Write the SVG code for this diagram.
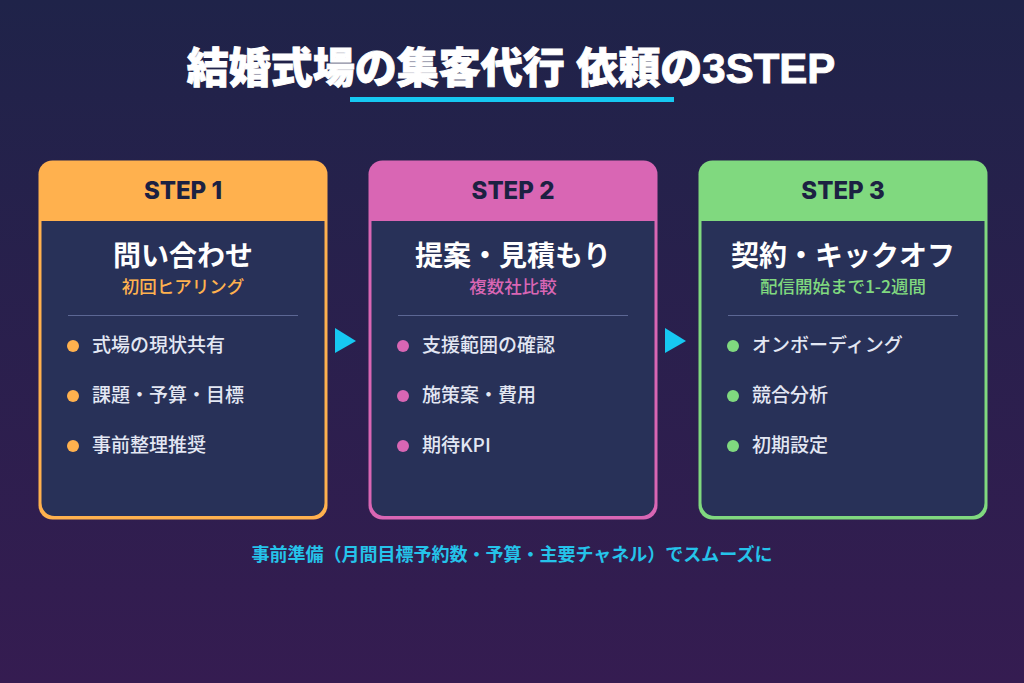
<svg xmlns="http://www.w3.org/2000/svg" width="1024" height="683" viewBox="0 0 1024 683">
<defs>
<linearGradient id="bg" x1="0" y1="0" x2="0" y2="1">
<stop offset="0" stop-color="#1f2349"/>
<stop offset="1" stop-color="#351c51"/>
</linearGradient>
</defs>
<style>
.t{font-family:"Noto Sans CJK JP","Noto Sans",sans-serif}
.title{font-size:42px;font-weight:900;fill:#ffffff;stroke:#ffffff;stroke-width:0.9;font-family:"Liberation Sans","Noto Sans CJK JP",sans-serif}
.step{font-size:24px;font-weight:800;fill:#1c2142;font-family:"Inter","Noto Sans CJK JP",sans-serif}
.name{font-size:28px;font-weight:700;fill:#ffffff}
.sub{font-size:17.5px;font-weight:500}
.item{font-size:19px;font-weight:500;fill:#e3e7f3}
.body{fill:#283158}
.div{stroke:#5c6794;stroke-width:1}
.arrow{fill:#16c8f2}
.note{font-size:18px;font-weight:700;fill:#25c3ea}
</style>
<rect width="1024" height="683" fill="url(#bg)"/>
<g id="title">
<text class="title" x="511" y="83" text-anchor="middle">結婚式場の集客代行 依頼の3STEP</text>
<rect x="350" y="97" width="324" height="5" fill="#16c8f2"/>
</g>
<g id="step1">
<rect x="38.5" y="160.5" width="289" height="359" rx="14" fill="#ffb14e"/>
<path class="body" d="M41.5 221 H324.5 V503 a13 13 0 0 1 -13 13 H54.5 a13 13 0 0 1 -13 -13 Z"/>
<text class="step" x="183" y="199" text-anchor="middle">STEP 1</text>
<text class="t name" x="183" y="266" text-anchor="middle">問い合わせ</text>
<text class="t sub" x="183" y="293" text-anchor="middle" fill="#ffb14e">初回ヒアリング</text>
<line class="div" x1="68" y1="315.5" x2="298" y2="315.5"/>
<circle cx="73" cy="346" r="6" fill="#ffb14e"/>
<text class="t item" x="92" y="352">式場の現状共有</text>
<circle cx="73" cy="396" r="6" fill="#ffb14e"/>
<text class="t item" x="92" y="402">課題・予算・目標</text>
<circle cx="73" cy="446" r="6" fill="#ffb14e"/>
<text class="t item" x="92" y="452">事前整理推奨</text>
</g>
<g id="step2">
<rect x="368.5" y="160.5" width="289" height="359" rx="14" fill="#d966b4"/>
<path class="body" d="M371.5 221 H654.5 V503 a13 13 0 0 1 -13 13 H384.5 a13 13 0 0 1 -13 -13 Z"/>
<text class="step" x="513" y="199" text-anchor="middle">STEP 2</text>
<text class="t name" x="513" y="266" text-anchor="middle">提案・見積もり</text>
<text class="t sub" x="513" y="293" text-anchor="middle" fill="#d966b4">複数社比較</text>
<line class="div" x1="398" y1="315.5" x2="628" y2="315.5"/>
<circle cx="403" cy="346" r="6" fill="#d966b4"/>
<text class="t item" x="422" y="352">支援範囲の確認</text>
<circle cx="403" cy="396" r="6" fill="#d966b4"/>
<text class="t item" x="422" y="402">施策案・費用</text>
<circle cx="403" cy="446" r="6" fill="#d966b4"/>
<text class="t item" x="422" y="452">期待KPI</text>
</g>
<g id="step3">
<rect x="698.5" y="160.5" width="289" height="359" rx="14" fill="#80d97f"/>
<path class="body" d="M701.5 221 H984.5 V503 a13 13 0 0 1 -13 13 H714.5 a13 13 0 0 1 -13 -13 Z"/>
<text class="step" x="843" y="199" text-anchor="middle">STEP 3</text>
<text class="t name" x="843" y="266" text-anchor="middle">契約・キックオフ</text>
<text class="t sub" x="843" y="293" text-anchor="middle" fill="#80d97f">配信開始まで1-2週間</text>
<line class="div" x1="728" y1="315.5" x2="958" y2="315.5"/>
<circle cx="733" cy="346" r="6" fill="#80d97f"/>
<text class="t item" x="752" y="352">オンボーディング</text>
<circle cx="733" cy="396" r="6" fill="#80d97f"/>
<text class="t item" x="752" y="402">競合分析</text>
<circle cx="733" cy="446" r="6" fill="#80d97f"/>
<text class="t item" x="752" y="452">初期設定</text>
</g>
<g id="connectors">
<polygon class="arrow" points="335,328 356,341 335,353"/>
<polygon class="arrow" points="665,328 686,341 665,353"/>
</g>
<g id="note">
<text class="t note" x="512" y="561" text-anchor="middle">事前準備（月間目標予約数・予算・主要チャネル）でスムーズに</text>
</g>
</svg>
